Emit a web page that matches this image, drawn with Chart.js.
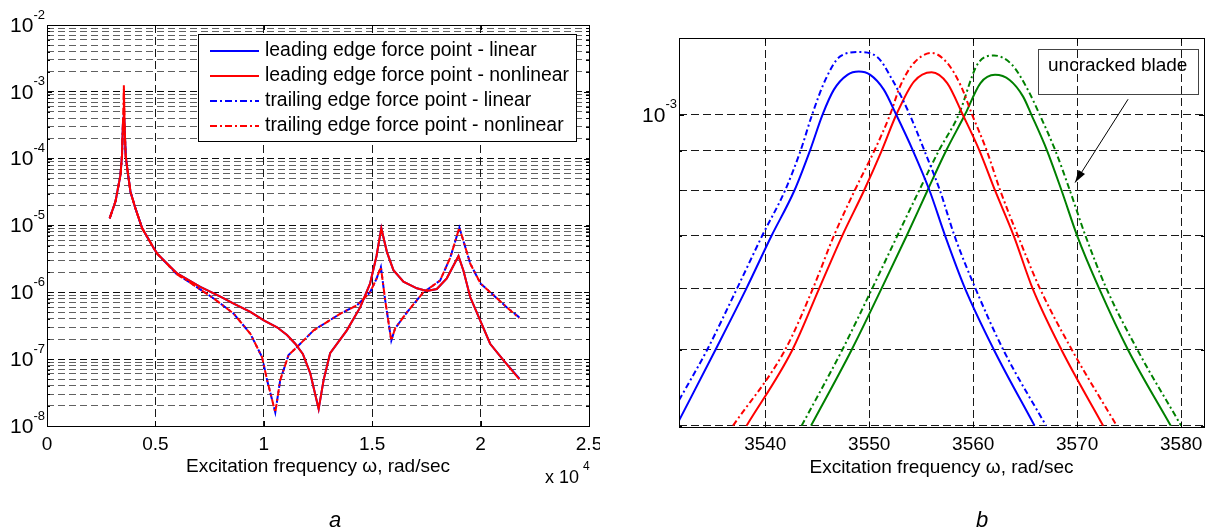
<!doctype html>
<html lang="en">
<head>
<meta charset="utf-8">
<title>Blade frequency response</title>
<script src="https://cdn.jsdelivr.net/npm/chart.js"></script>
<style>
  html, body { margin: 0; padding: 0; background: #fff; }
  #wrap { position: relative; width: 1206px; height: 530px; }
  #boxA { position: absolute; left: 0; top: 0; width: 600px; height: 530px; }
  #boxB { position: absolute; left: 600px; top: 0; width: 606px; height: 530px; }
</style>
</head>
<body>
<div id="wrap">
  <div id="boxA"><canvas id="chartA" width="600" height="530"></canvas></div>
  <div id="boxB"><canvas id="chartB" width="606" height="530"></canvas></div>
</div>

<script>
// ---------- panel a : wide band response (rad/sec vs amplitude) ----------
const leadX = [2890, 3160, 3390, 3460, 3510, 3545, 3580, 3630, 3700, 3850, 4080, 4390, 4920, 5080,
  6000, 7070, 8000, 8610, 9380, 10000, 10610, 11070, 11450, 11800, 12140, 12530, 12760, 13060,
  13830, 14450, 14900, 15200, 15420, 15680, 15980, 16440, 17060, 17520, 17980, 18440, 18980,
  19210, 19520, 19980, 20440, 21050, 21790];
const leadNonY = [1.28e-5, 2.3e-5, 5.7e-5, 1.13e-4, 4.0e-4, 1.25e-3, 3.0e-4, 1.1e-4, 7.2e-5, 3.2e-5,
  1.8e-5, 9.1e-6, 4.6e-6, 3.8e-6, 1.92e-6, 1.21e-6, 8.6e-7, 6.8e-7, 5.1e-7, 3.8e-7, 3.0e-7, 2.3e-7,
  1.7e-7, 1.2e-7, 6.2e-8, 1.8e-8, 4.9e-8, 1.23e-7, 2.7e-7, 6.0e-7, 1.35e-6, 3.5e-6, 9.1e-6, 4.0e-6,
  2.15e-6, 1.44e-6, 1.15e-6, 1.05e-6, 1.12e-6, 1.62e-6, 3.5e-6, 2.1e-6, 8.5e-7, 3.8e-7, 1.7e-7,
  9.7e-8, 5.0e-8];
const leadLinY = [1.28e-5, 2.3e-5, 5.7e-5, 1.13e-4, 4.0e-4, 4.6e-4, 3.0e-4, 1.1e-4, 7.2e-5, 3.2e-5,
  1.8e-5, 9.1e-6, 4.6e-6, 3.8e-6, 1.92e-6, 1.21e-6, 8.6e-7, 6.8e-7, 5.1e-7, 3.8e-7, 3.0e-7, 2.3e-7,
  1.7e-7, 1.2e-7, 6.2e-8, 1.8e-8, 4.9e-8, 1.23e-7, 2.7e-7, 6.0e-7, 1.35e-6, 3.5e-6, 9.1e-6, 4.0e-6,
  2.15e-6, 1.44e-6, 1.15e-6, 1.05e-6, 1.12e-6, 1.62e-6, 3.5e-6, 2.1e-6, 8.5e-7, 3.8e-7, 1.7e-7,
  9.7e-8, 5.1e-8];

const trailX = [2890, 3160, 3390, 3460, 3510, 3545, 3580, 3630, 3700, 3850, 4080, 4390, 4920, 5080,
  6000, 6460, 7690, 8610, 9380, 9920, 10150, 10530, 10760, 11140, 11600, 12300, 13530, 14300,
  14900, 15200, 15400, 15600, 15880, 16060, 16600, 17360, 18130, 18600, 19020, 19200, 19520,
  20000, 20590, 21200, 21790];
const trailNonY = [1.28e-5, 2.3e-5, 5.7e-5, 1.13e-4, 3.8e-4, 1.1e-3, 3.0e-4, 1.1e-4, 7.2e-5, 3.2e-5,
  1.8e-5, 9.1e-6, 4.6e-6, 3.8e-6, 1.85e-6, 1.5e-6, 8.1e-7, 4.8e-7, 2.4e-7, 1.07e-7, 4.9e-8, 1.6e-8,
  4.9e-8, 1.15e-7, 1.6e-7, 2.7e-7, 4.8e-7, 6.4e-7, 1.0e-6, 1.6e-6, 2.4e-6, 7.6e-7, 1.9e-7, 2.9e-7,
  5.0e-7, 1.0e-6, 1.5e-6, 3.3e-6, 9.3e-6, 6.0e-6, 2.7e-6, 1.35e-6, 9.1e-7, 6.0e-7, 4.1e-7];
const trailLinY = [1.28e-5, 2.3e-5, 5.7e-5, 1.13e-4, 3.8e-4, 4.4e-4, 3.0e-4, 1.1e-4, 7.2e-5, 3.2e-5,
  1.8e-5, 9.1e-6, 4.6e-6, 3.8e-6, 1.85e-6, 1.5e-6, 8.1e-7, 4.8e-7, 2.4e-7, 1.07e-7, 4.9e-8, 1.6e-8,
  4.9e-8, 1.15e-7, 1.6e-7, 2.7e-7, 4.8e-7, 6.4e-7, 1.0e-6, 1.6e-6, 2.4e-6, 7.6e-7, 1.9e-7, 2.9e-7,
  5.0e-7, 1.0e-6, 1.5e-6, 3.3e-6, 9.3e-6, 6.0e-6, 2.7e-6, 1.35e-6, 9.1e-7, 6.0e-7, 4.2e-7];

const legendA = ['leading edge force point - linear', 'leading edge force point - nonlinear',
  'trailing edge force point - linear', 'trailing edge force point - nonlinear'];
const xTicksA = [0, 5000, 10000, 15000, 20000, 25000];
const yDecadesA = [1e-8, 1e-7, 1e-6, 1e-5, 1e-4, 1e-3, 1e-2];

// ---------- panel b : zoom on first resonance ----------
const blueSolidX = [3531.7, 3535.2, 3538.2, 3540.6, 3542.8, 3544.3, 3545.5, 3546.6, 3547.9, 3549.0,
  3550.1, 3551.4, 3552.6, 3554.2, 3555.8, 3557.3, 3559.2, 3562.0, 3565.9];
const blueSolidY = [4.06e-4, 5.0e-4, 6.0e-4, 7.0e-4, 8.0e-4, 9.0e-4, 1.0e-3, 1.077e-3, 1.125e-3, 1.136e-3,
  1.125e-3, 1.077e-3, 1.0e-3, 9.0e-4, 8.0e-4, 7.0e-4, 6.0e-4, 5.0e-4, 4.0e-4];
const blueDashX = [3531.7, 3534.4, 3537.3, 3539.7, 3541.9, 3543.4, 3544.5, 3545.8, 3547.2, 3549.0,
  3550.7, 3552.2, 3553.9, 3555.3, 3556.8, 3558.2, 3560.2, 3562.9, 3567.0];
const blueDashY = [4.31e-4, 5.0e-4, 6.0e-4, 7.0e-4, 8.0e-4, 9.0e-4, 1.0e-3, 1.11e-3, 1.188e-3, 1.203e-3,
  1.188e-3, 1.11e-3, 1.0e-3, 9.0e-4, 8.0e-4, 7.0e-4, 6.0e-4, 5.0e-4, 4.0e-4];
const redSolidX = [3538.2, 3542.6, 3545.2, 3547.4, 3549.5, 3551.2, 3552.6, 3554.3, 3556.0, 3557.5,
  3559.0, 3560.6, 3562.1, 3563.9, 3565.7, 3568.5, 3572.5];
const redSolidY = [4.0e-4, 5.0e-4, 6.0e-4, 7.0e-4, 8.0e-4, 9.0e-4, 1.0e-3, 1.103e-3, 1.134e-3, 1.098e-3,
  1.0e-3, 9.0e-4, 8.0e-4, 7.0e-4, 6.0e-4, 5.0e-4, 4.0e-4];
const redDashX = [3536.9, 3541.9, 3544.6, 3546.6, 3548.6, 3550.5, 3552.0, 3553.0, 3554.3, 3556.0,
  3557.5, 3558.8, 3559.9, 3561.3, 3562.6, 3564.3, 3566.4, 3569.5, 3573.8];
const redDashY = [4.0e-4, 5.0e-4, 6.0e-4, 7.0e-4, 8.0e-4, 9.0e-4, 1.0e-3, 1.09e-3, 1.165e-3, 1.2e-3,
  1.165e-3, 1.09e-3, 1.0e-3, 9.0e-4, 8.0e-4, 7.0e-4, 6.0e-4, 5.0e-4, 4.0e-4];
const greenSolidX = [3544.4, 3548.3, 3551.2, 3553.6, 3555.6, 3557.4, 3559.2, 3560.7, 3562.1, 3563.5,
  3564.8, 3565.6, 3567.1, 3568.5, 3570.0, 3572.1, 3574.9, 3579.0];
const greenSolidY = [4.0e-4, 5.0e-4, 6.0e-4, 7.0e-4, 8.0e-4, 9.0e-4, 1.0e-3, 1.098e-3, 1.125e-3, 1.108e-3,
  1.055e-3, 1.0e-3, 9.0e-4, 8.0e-4, 7.0e-4, 6.0e-4, 5.0e-4, 4.0e-4];
const greenDashX = [3543.5, 3547.4, 3550.3, 3552.7, 3554.8, 3556.7, 3558.6, 3560.4, 3562.0, 3563.7,
  3565.2, 3566.4, 3567.9, 3569.3, 3570.8, 3572.8, 3575.8, 3580.0];
const greenDashY = [4.0e-4, 5.0e-4, 6.0e-4, 7.0e-4, 8.0e-4, 9.0e-4, 1.0e-3, 1.16e-3, 1.191e-3, 1.16e-3,
  1.08e-3, 1.0e-3, 9.0e-4, 8.0e-4, 7.0e-4, 6.0e-4, 5.0e-4, 4.0e-4];

const xTicksB = [3540, 3550, 3560, 3570, 3580];
const yGridB = [4e-4, 5e-4, 6e-4, 7e-4, 8e-4, 9e-4, 1e-3];
const yLabelsB = [1e-3];
const noteText = 'uncracked blade';

// ---------- helpers ----------
const FONT = '"Liberation Sans", Arial, Helvetica, sans-serif';
Chart.defaults.font.family = FONT;
Chart.defaults.color = '#000';

const DASHDOT = [7, 3, 2, 3];
const pairs = (xs, ys) => xs.map((x, i) => ({x: x, y: ys[i]}));
const isDecade = v => Math.abs(Math.log10(v) - Math.round(Math.log10(v))) < 1e-9;

function minorGrid(decades) {
  const out = [];
  for (let i = 0; i < decades.length - 1; i++) {
    for (let k = 1; k <= 9; k++) out.push(decades[i] * k);
  }
  out.push(decades[decades.length - 1]);
  return out;
}
const yGridA = minorGrid(yDecadesA);

// frame, inward ticks and 10^n labels, MATLAB style
function drawFrame(chart, xTicks, yGrid, yLabels) {
  const {ctx, chartArea: a, scales: {x, y}} = chart;
  ctx.save();
  ctx.setLineDash([]);
  ctx.strokeStyle = '#000';
  ctx.lineWidth = 1;
  ctx.beginPath();
  xTicks.forEach(v => {
    const px = Math.round(x.getPixelForValue(v)) + 0.5;
    ctx.moveTo(px, a.bottom); ctx.lineTo(px, a.bottom - 5);
    ctx.moveTo(px, a.top); ctx.lineTo(px, a.top + 5);
  });
  yGrid.forEach(v => {
    const py = Math.round(y.getPixelForValue(v)) + 0.5;
    const len = isDecade(v) ? 5 : 3;
    ctx.moveTo(a.left, py); ctx.lineTo(a.left + len, py);
    ctx.moveTo(a.right, py); ctx.lineTo(a.right - len, py);
  });
  ctx.stroke();
  ctx.strokeRect(Math.round(a.left) + 0.5, Math.round(a.top) + 0.5,
    Math.round(a.right - a.left), Math.round(a.bottom - a.top));

  ctx.fillStyle = '#000';
  ctx.textBaseline = 'middle';
  ctx.textAlign = 'right';
  yLabels.forEach(v => {
    const py = y.getPixelForValue(v);
    const exp = String(Math.round(Math.log10(v)));
    ctx.font = '13px ' + FONT;
    const w = ctx.measureText(exp).width;
    const xr = a.left - 2;
    ctx.fillText(exp, xr, py - 10);
    ctx.font = '21px ' + FONT;
    ctx.fillText('10', xr - w, py + 1);
  });
  ctx.restore();
}

const gridColorA = c => (c.tick && isDecade(c.tick.value)) ? 'rgba(0,0,0,0.95)' : 'rgba(0,0,0,0.62)';

const frameA = {
  id: 'frameA',
  afterDraw(chart) {
    const {ctx, chartArea: a} = chart;
    drawFrame(chart, xTicksA, yGridA, yDecadesA);
    ctx.save();
    // legend
    const lx = 198.5, ly = 34.5, lw = 378, lh = 107;
    ctx.fillStyle = '#fff';
    ctx.fillRect(lx, ly, lw, lh);
    ctx.strokeStyle = '#000';
    ctx.lineWidth = 1;
    ctx.strokeRect(lx, ly, lw, lh);
    const rows = [51, 76, 101, 126];
    const styles = [['#0000ff', []], ['#ff0000', []], ['#0000ff', DASHDOT], ['#ff0000', DASHDOT]];
    ctx.font = '19.4px ' + FONT;
    ctx.textBaseline = 'middle';
    ctx.textAlign = 'left';
    legendA.forEach((t, i) => {
      ctx.strokeStyle = styles[i][0];
      ctx.lineWidth = 2;
      ctx.setLineDash(styles[i][1]);
      ctx.beginPath();
      ctx.moveTo(210, rows[i]); ctx.lineTo(259, rows[i]);
      ctx.stroke();
      ctx.setLineDash([]);
      ctx.fillStyle = '#000';
      ctx.fillText(t, 265, rows[i]);
    });
    // x 10^4 multiplier
    ctx.font = '18px ' + FONT;
    ctx.fillText('x 10', a.right - 44, a.bottom + 52);
    ctx.font = '12px ' + FONT;
    ctx.fillText('4', a.right - 6, a.bottom + 41);
    // caption
    ctx.font = 'italic 22px ' + FONT;
    ctx.textAlign = 'center';
    ctx.textBaseline = 'alphabetic';
    ctx.fillText('a', 335, 527);
    ctx.restore();
  }
};

new Chart(document.getElementById('chartA'), {
  type: 'line',
  data: {
    datasets: [
      {label: legendA[1], data: pairs(leadX, leadNonY), borderColor: '#ff0000', order: 0},
      {label: legendA[3], data: pairs(trailX, trailNonY), borderColor: '#ff0000', borderDash: DASHDOT, order: 1},
      {label: legendA[0], data: pairs(leadX, leadLinY), borderColor: '#0000ff', order: 2},
      {label: legendA[2], data: pairs(trailX, trailLinY), borderColor: '#0000ff', borderDash: DASHDOT, order: 3}
    ]
  },
  options: {
    responsive: false,
    animation: false,
    devicePixelRatio: 1,
    layout: {padding: {top: 25, right: 11, left: 0, bottom: 0}},
    elements: {point: {radius: 0}, line: {borderWidth: 2, tension: 0}},
    plugins: {legend: {display: false}, tooltip: {enabled: false}},
    scales: {
      x: {
        type: 'linear', min: 0, max: 25000,
        afterBuildTicks: s => { s.ticks = xTicksA.map(v => ({value: v})); },
        afterFit: s => { s.height = 104; s.paddingLeft = 0; s.paddingRight = 0; },
        ticks: {callback: v => String(v / 1e4), font: {size: 19}, padding: 7, autoSkip: false, maxRotation: 0},
        grid: {color: 'rgba(0,0,0,0.9)', drawTicks: false, lineWidth: 1},
        border: {display: false, dash: [8, 4]},
        title: {display: true, text: 'Excitation frequency \u03c9, rad/sec', font: {size: 19}, padding: {top: 0, bottom: 52}}
      },
      y: {
        type: 'logarithmic', min: 1e-8, max: 1e-2,
        afterBuildTicks: s => { s.ticks = yGridA.map(v => ({value: v, major: isDecade(v)})); },
        afterFit: s => { s.width = 47; s.paddingTop = 0; s.paddingBottom = 0; },
        ticks: {display: false},
        grid: {color: gridColorA, drawTicks: false, lineWidth: 1},
        border: {display: false, dash: [7, 4]}
      }
    }
  },
  plugins: [frameA]
});

// ---------- panel b ----------
const noteBox = {x0: 3566.2, x1: 3581.6, y0: 1.215e-3, y1: 1.064e-3, tx: 3573.9, ty: 1.156e-3};
const noteArrow = {x0: 3574.9, y0: 1.047e-3, x1: 3569.8, y1: 8.19e-4};

const frameB = {
  id: 'frameB',
  afterDraw(chart) {
    const {ctx, scales: {x, y}} = chart;
    drawFrame(chart, xTicksB, yGridB, yLabelsB);
    ctx.save();
    // annotation box (transparent)
    const bx0 = x.getPixelForValue(noteBox.x0), bx1 = x.getPixelForValue(noteBox.x1);
    const by0 = y.getPixelForValue(noteBox.y0), by1 = y.getPixelForValue(noteBox.y1);
    ctx.strokeStyle = '#444';
    ctx.lineWidth = 1;
    ctx.strokeRect(Math.round(bx0) + 0.5, Math.round(by0) + 0.5, Math.round(bx1 - bx0), Math.round(by1 - by0));
    ctx.fillStyle = '#000';
    ctx.font = '19px ' + FONT;
    ctx.textAlign = 'center';
    ctx.textBaseline = 'middle';
    ctx.fillText(noteText, x.getPixelForValue(noteBox.tx), y.getPixelForValue(noteBox.ty));
    // arrow
    const ax0 = x.getPixelForValue(noteArrow.x0), ay0 = y.getPixelForValue(noteArrow.y0);
    const ax1 = x.getPixelForValue(noteArrow.x1), ay1 = y.getPixelForValue(noteArrow.y1);
    const ang = Math.atan2(ay1 - ay0, ax1 - ax0);
    ctx.strokeStyle = '#000';
    ctx.beginPath();
    ctx.moveTo(ax0, ay0); ctx.lineTo(ax1, ay1);
    ctx.stroke();
    ctx.beginPath();
    ctx.moveTo(ax1, ay1);
    ctx.lineTo(ax1 - 13 * Math.cos(ang - 0.3), ay1 - 13 * Math.sin(ang - 0.3));
    ctx.lineTo(ax1 - 13 * Math.cos(ang + 0.3), ay1 - 13 * Math.sin(ang + 0.3));
    ctx.closePath();
    ctx.fill();
    // caption
    ctx.font = 'italic 22px ' + FONT;
    ctx.textBaseline = 'alphabetic';
    ctx.fillText('b', 382, 527);
    ctx.restore();
  }
};

new Chart(document.getElementById('chartB'), {
  type: 'line',
  data: {
    datasets: [
      {data: pairs(blueSolidX, blueSolidY), borderColor: '#0000ff'},
      {data: pairs(blueDashX, blueDashY), borderColor: '#0000ff', borderDash: [6, 3, 2, 3]},
      {data: pairs(redSolidX, redSolidY), borderColor: '#ff0000'},
      {data: pairs(redDashX, redDashY), borderColor: '#ff0000', borderDash: [6, 3, 2, 3]},
      {data: pairs(greenSolidX, greenSolidY), borderColor: '#008000'},
      {data: pairs(greenDashX, greenDashY), borderColor: '#008000', borderDash: [6, 3, 2, 3]}
    ]
  },
  options: {
    responsive: false,
    animation: false,
    devicePixelRatio: 1,
    layout: {padding: {top: 38, right: 2, left: 0, bottom: 0}},
    elements: {point: {radius: 0}, line: {borderWidth: 2, cubicInterpolationMode: 'monotone'}},
    plugins: {legend: {display: false}, tooltip: {enabled: false}},
    scales: {
      x: {
        type: 'linear', min: 3531.7, max: 3582.2,
        afterBuildTicks: s => { s.ticks = xTicksB.map(v => ({value: v})); },
        afterFit: s => { s.height = 103.5; s.paddingLeft = 0; s.paddingRight = 0; },
        ticks: {callback: v => String(v), font: {size: 19}, padding: 7, autoSkip: false, maxRotation: 0},
        grid: {color: 'rgba(0,0,0,0.9)', drawTicks: false, lineWidth: 1},
        border: {display: false, dash: [8, 4]},
        title: {display: true, text: 'Excitation frequency \u03c9, rad/sec', font: {size: 19}, padding: {top: 0, bottom: 51}}
      },
      y: {
        type: 'logarithmic', min: 3.99e-4, max: 1.254e-3,
        afterBuildTicks: s => { s.ticks = yGridB.map(v => ({value: v})); },
        afterFit: s => { s.width = 79; s.paddingTop = 0; s.paddingBottom = 0; },
        ticks: {display: false},
        grid: {color: 'rgba(0,0,0,0.9)', drawTicks: false, lineWidth: 1},
        border: {display: false, dash: [8, 4]}
      }
    }
  },
  plugins: [frameB]
});
</script>
</body>
</html>
